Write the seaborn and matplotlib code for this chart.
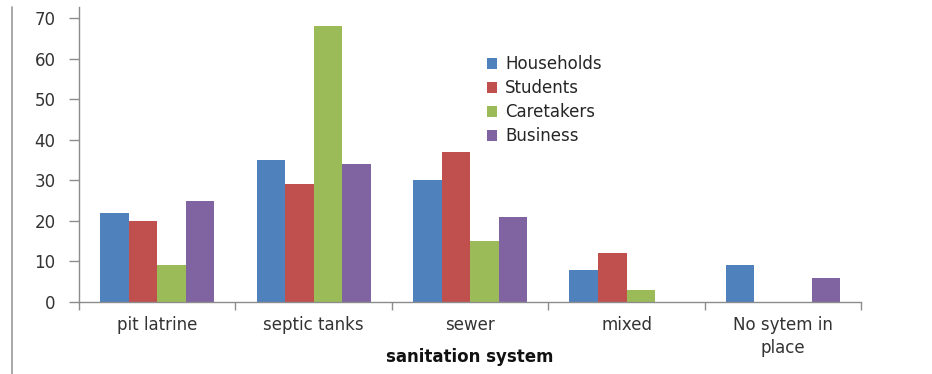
import matplotlib
matplotlib.use("Agg")
import matplotlib.pyplot as plt
import seaborn as sns
import pandas as pd
from matplotlib.lines import Line2D

systems = ["pit latrine", "septic tanks", "sewer", "mixed", "No sytem in\nplace"]
groups = ["Households", "Students", "Caretakers", "Business"]
households = [22, 35, 30, 8, 9]
students = [20, 29, 37, 12, 0]
caretakers = [9, 68, 15, 3, 0]
business = [25, 34, 21, 0, 6]
colors = ["#4F81BD", "#C0504D", "#9BBB59", "#8064A2"]

rows = []
for g, vals in zip(groups, [households, students, caretakers, business]):
    for s, v in zip(systems, vals):
        rows.append({"system": s, "group": g, "count": v})
df = pd.DataFrame(rows)

sns.set_style("white")
plt.rcParams["font.family"] = ["DejaVu Sans"]

fig = plt.figure(figsize=(9.32, 3.74), dpi=100)
ax = fig.add_axes([0.0848, 0.1925, 0.924 - 0.0848, 0.981 - 0.1925])

sns.barplot(data=df, x="system", y="count", hue="group", order=systems,
            hue_order=groups, palette=colors, width=0.73, saturation=1,
            ax=ax, errorbar=None, linewidth=0)

ax.set_xlim(-0.5, 4.5)
ax.set_ylim(0, 72.7)
ax.set_yticks(range(0, 71, 10))
ax.set_ylabel("")
ax.set_xlabel("sanitation system", fontsize=12, fontweight="bold",
              color="#111111")
ax.xaxis.set_label_coords(0.5, -0.155)

spine_col = "#8c8c8c"
for side in ["top", "right"]:
    ax.spines[side].set_visible(False)
for side in ["left", "bottom"]:
    ax.spines[side].set_color(spine_col)
    ax.spines[side].set_linewidth(1)

ax.set_xticks(range(len(systems)))
ax.set_xticklabels(systems, linespacing=1.35)
ax.set_xticks([i - 0.5 for i in range(len(systems) + 1)], minor=True)
ax.tick_params(axis="x", which="major", length=0, pad=10, labelsize=12,
               labelcolor="#333333")
ax.tick_params(axis="x", which="minor", length=6, direction="out",
               color=spine_col, width=1)
ax.tick_params(axis="y", length=7, direction="out", color=spine_col,
               width=1, labelsize=12, labelcolor="#333333", pad=10)
ax.tick_params(axis="both", which="both", bottom=True, left=True)

handles, labels = ax.get_legend_handles_labels()
ax.legend(handles, labels, loc="upper left", bbox_to_anchor=(0.513, 0.859),
          frameon=False, fontsize=12, handlelength=0.6, handleheight=0.6,
          handletextpad=0.5, labelspacing=0.36, borderaxespad=0)

fig.add_artist(Line2D([12 / 932, 12 / 932], [0, 1 - 7 / 374],
                      color="#9a9a9a", linewidth=1.2))

fig.savefig("out.png", dpi=100, facecolor="white")
